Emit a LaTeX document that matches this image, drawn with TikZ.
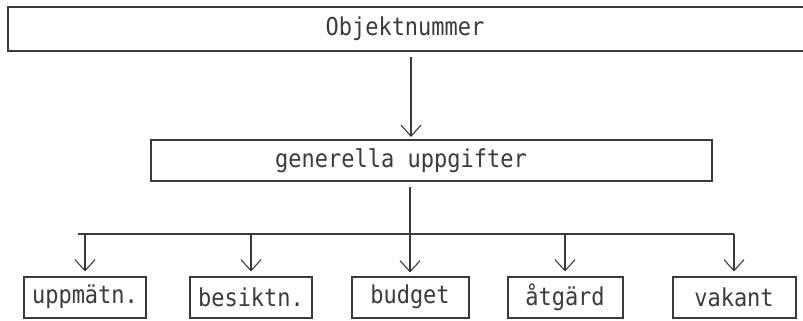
\documentclass[tikz,border=0pt]{standalone}
\usepackage{fontspec}
\setmonofont{DejaVu Sans Mono}
\usetikzlibrary{arrows.meta,calc}
\definecolor{ink}{HTML}{3A3A3A}
\newcommand{\tall}[1]{\scalebox{1}[1.12]{#1}}
\tikzset{
  boxed/.style={draw=ink, line width=2pt, rectangle, inner sep=0pt},
  lbl/.style={text=ink, font=\ttfamily\fontsize{22}{26}\selectfont, inner sep=0pt},
  conn/.style={draw=ink, line width=1.1pt},
  arr/.style={conn, -{Straight Barb[length=11pt,width=20pt,line width=1.1pt]}}
}
\begin{document}
\begin{tikzpicture}[x=1pt,y=-1pt]
  \useasboundingbox[fill=white] (0,0) rectangle (803,321);

  % top level: the frame is open, running off the right edge of the sheet
  \coordinate (topNW) at (8,7);
  \coordinate (topSW) at (8,51);
  \draw[ink, line width=2pt] (803,7) -- (topNW) -- (topSW) -- (803,51);
  \node[lbl] (top) at (405,29) {\tall{Objektnummer}};
  \coordinate (topS) at (411,51);

  % middle level
  \node[boxed, minimum width=561pt, minimum height=41pt] (gen) at (431.5,160.5) {};
  \node[lbl] (gentext) at (401,160.5) {\tall{generella uppgifter}};

  % bottom level
  \node[boxed, lbl, minimum width=122pt, minimum height=41pt] (b1) at (85,297) {\tall{uppmätn.}};
  \node[boxed, lbl, minimum width=122pt, minimum height=41pt] (b2) at (251,297) {\tall{besiktn.}};
  \node[boxed, lbl, minimum width=117pt, minimum height=41pt] (b3) at (410,297) {\tall{budget}};
  \node[boxed, lbl, minimum width=115pt, minimum height=41pt] (b4) at (565,297) {\tall{åtgärd}};
  \node[boxed, lbl, minimum width=123pt, minimum height=41pt] (b5) at (734,297) {\tall{vakant}};

  % connectors
  \coordinate (barL) at (78,234);
  \coordinate (barR) at (b5.north |- barL);

  \draw[arr] ([yshift=-6pt]topS) -- ([yshift=2pt]gen.north -| topS);
  \draw[conn] (barL) -- (barR);
  \draw[arr] ([yshift=-5pt]gen.south -| b3.north) -- ([yshift=3pt]b3.north);
  \foreach \b in {b1,b2,b4,b5}{
    \draw[arr] (\b.north |- barL) -- ([yshift=4pt]\b.north);
  }
\end{tikzpicture}
\end{document}
